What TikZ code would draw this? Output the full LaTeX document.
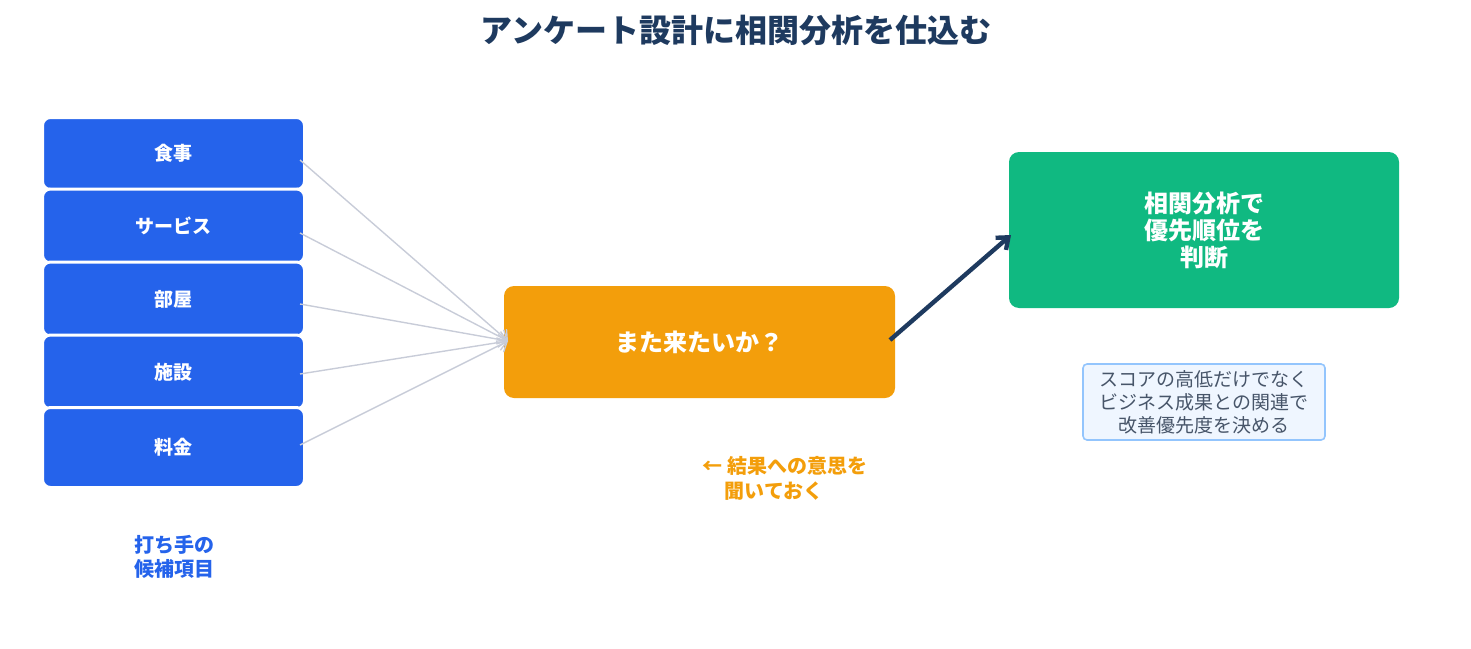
\documentclass[tikz,border=0pt]{standalone}
\usepackage{fontspec}
\setmainfont{Noto Sans CJK JP}
\usetikzlibrary{arrows.meta}
\definecolor{navy}{HTML}{1E3A5F}
\definecolor{bblue}{HTML}{2563EB}
\definecolor{orng}{HTML}{F39E0B}
\definecolor{grn}{HTML}{10B981}
\definecolor{gline}{HTML}{C8CCD8}
\definecolor{notefill}{HTML}{EFF6FF}
\definecolor{notedraw}{HTML}{93C5FD}
\definecolor{notetext}{HTML}{475569}
\begin{document}
\begin{tikzpicture}[x=0.5pt,y=-0.5pt,
  item/.style={draw=white,line width=1.5pt,fill=bblue,rounded corners=4pt,minimum width=131pt,text=white,font=\fontsize{9.5}{11}\selectfont\bfseries},
  big/.style={rounded corners=5pt,text=white,font=\fontsize{12}{13.5}\selectfont\bfseries,align=center},
  feed/.style={gline,line width=0.7pt,-{Straight Barb[length=4pt]}}]
\useasboundingbox (0,0) rectangle (1471,648);
\node[text=navy,font=\fontsize{16}{18}\selectfont\bfseries] (title) at (736,30) {アンケート設計に相関分析を仕込む};
\node[item,minimum height=36pt] (b1) at (173.5,153.5) {食事};
\node[item,minimum height=37pt] (b2) at (173.5,226) {サービス};
\node[item,minimum height=37pt] (b3) at (173.5,299) {部屋};
\node[item,minimum height=37pt] (b4) at (173.5,372) {施設};
\node[item,minimum height=40pt] (b5) at (173.5,447.5) {料金};
\node[big,fill=orng,minimum width=195.5pt,minimum height=56pt] (q) at (699.5,342) {また来たいか？};
\node[big,fill=grn,minimum width=195pt,minimum height=78pt] (g) at (1204,230) {相関分析で\\優先順位を\\判断};
\node[draw=notedraw,fill=notefill,line width=0.8pt,rounded corners=2pt,text=notetext,align=center,inner sep=1pt,
  minimum width=121pt,minimum height=38pt,font=\fontsize{9.5}{11.5}\selectfont] (note) at (1204,402) {スコアの高低だけでなく\\ビジネス成果との関連で\\改善優先度を決める};
\node[text=orng,align=left,font=\fontsize{10}{12.5}\selectfont\bfseries] (ann) at (785,478) {← 結果への意思を\\\hspace*{1.1em}聞いておく};
\node[text=bblue,align=left,font=\fontsize{10}{12}\selectfont\bfseries] (lab) at (174,557) {打ち手の\\候補項目};
\coordinate (tip) at (508,341);
\foreach \b/\y in {b1/160,b2/233,b3/304,b4/374,b5/445}
  \draw[feed] (300,\y) -- (tip);
\draw[navy,line width=2.2pt,-{Straight Barb[length=5pt,width=8pt]}] (890,340) -- (1011,235);
\end{tikzpicture}
\end{document}
